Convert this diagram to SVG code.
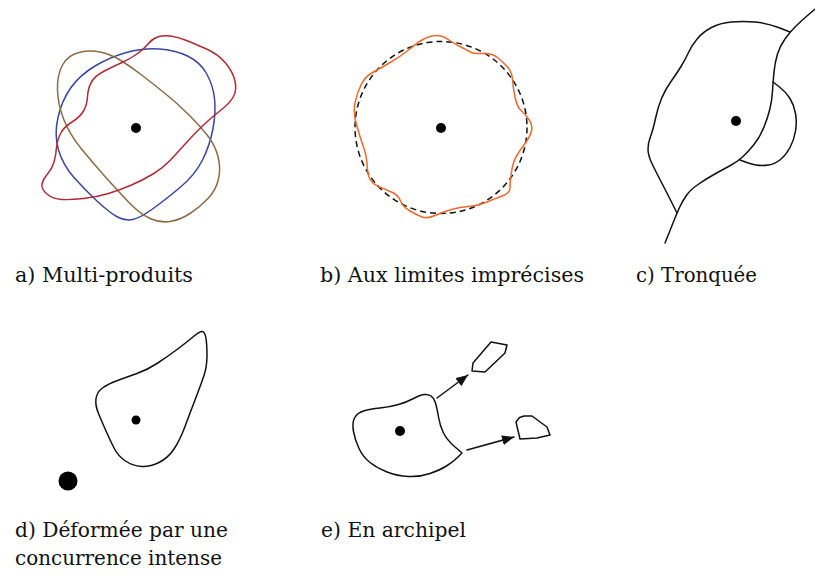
<svg xmlns="http://www.w3.org/2000/svg" width="815" height="576" viewBox="0 0 815 576">
<style>
.ln{fill:none;stroke:#111;stroke-width:1.5;stroke-linejoin:round;stroke-linecap:round}
.dot{fill:#000}
.lbl{font-family:"DejaVu Serif","Liberation Serif",serif;font-size:19.5px;fill:#111}
</style>
<defs>
<marker id="ah" markerUnits="userSpaceOnUse" markerWidth="13" markerHeight="11" refX="12" refY="5" orient="auto">
<path d="M0,0 L12,5 L0,10 Z" fill="#111"/>
</marker>
</defs>
<rect width="815" height="576" fill="#fff"/>

<g id="panel-a">
<path fill="none" stroke="#3a46a0" stroke-width="1.5" d="M 159,49 Q 175,50 187.5,56 Q 200,62 206.5,73.5 Q 213,85 214.5,98.5 Q 216,112 213,128.5 Q 210,145 202.5,160 Q 195,175 180,187.5 Q 165,200 152.5,209 Q 140,218 132.5,219.5 Q 125,221 117.5,217 Q 110,213 97.5,201.5 Q 85,190 74,177.5 Q 63,165 58.5,150 Q 54,135 58,117.5 Q 62,100 71,87.5 Q 80,75 95,66 Q 110,57 126.5,52.5 Q 143,48 159,49 Z"/>
<path fill="none" stroke="#8a6c48" stroke-width="1.5" d="M 100,52 Q 110,54 120,60 Q 130,66 141,74.5 Q 152,83 164.5,93 Q 177,103 188.5,114.5 Q 200,126 207.5,135.5 Q 215,145 218,156.5 Q 221,168 218.5,179 Q 216,190 208,198.5 Q 200,207 190,213.5 Q 180,220 170,221.5 Q 160,223 150,218.5 Q 140,214 128.5,202 Q 117,190 105,176.5 Q 93,163 81.5,149 Q 70,135 64,120 Q 58,105 57.5,90 Q 57,75 62.5,65 Q 68,55 79,52.5 Q 90,50 100,52 Z"/>
<path fill="none" stroke="#b02a34" stroke-width="1.5" d="M 170.5,36 Q 178,37 186.5,40.5 Q 195,44 206.5,49 Q 218,54 225.5,63 Q 233,72 235,81 Q 237,90 233.5,96.5 Q 230,103 221,110 Q 212,117 203.5,125 Q 195,133 186.5,142.5 Q 178,152 170.5,160 Q 163,168 153,174 Q 143,180 131.5,185 Q 120,190 108.5,193.5 Q 97,197 83.5,198.5 Q 70,200 61.5,199.5 Q 53,199 47,194 Q 41,189 42,184 Q 43,179 47.5,174 Q 52,169 54,162 Q 56,155 56.5,147.5 Q 57,140 60.5,133.5 Q 64,127 72,122 Q 80,117 83.5,111 Q 87,105 87.5,96.5 Q 88,88 91.5,82 Q 95,76 103.5,71.5 Q 112,67 121,63 Q 130,59 137,54 Q 144,49 148,44 Q 152,39 157.5,37 Q 163,35 170.5,36 Z"/>
<circle class="dot" cx="136" cy="128" r="5"/>
<text class="lbl" x="15" y="282" textLength="178" lengthAdjust="spacingAndGlyphs">a) Multi-produits</text>
</g>

<g id="panel-b">
<circle cx="441" cy="127.5" r="86" fill="none" stroke="#111" stroke-width="1.5" stroke-dasharray="6 4"/>
<path fill="none" stroke="#ee6a2c" stroke-width="1.5" stroke-linejoin="round" d="M 441,36 Q 445,37 449,40 Q 453,43 460,46.5 Q 467,50 470.5,52 Q 474,54 483,53.5 Q 492,53 497.5,57.5 Q 503,62 507.5,67 Q 512,72 512.5,79.5 Q 513,87 515,97 Q 517,107 521,110.5 Q 525,114 529,119.5 Q 533,125 531.5,131 Q 530,137 525,143.5 Q 520,150 516.5,156 Q 513,162 511.5,172 Q 510,182 510,187.5 Q 510,193 503.5,195.5 Q 497,198 487,202 Q 477,206 468.5,206.5 Q 460,207 451.5,209.5 Q 443,212 435,215.5 Q 427,219 422,217 Q 417,215 410,211 Q 403,207 400.5,201 Q 398,195 392.5,192.5 Q 387,190 377.5,186 Q 368,182 367.5,169.5 Q 367,157 363.5,147 Q 360,137 356.5,125 Q 353,113 355,103 Q 357,93 361,85 Q 365,77 371,73.5 Q 377,70 388.5,63.5 Q 400,57 408.5,50 Q 417,43 422,40 Q 427,37 432,36 Q 437,35 441,36 Z"/>
<circle class="dot" cx="441" cy="128" r="5"/>
<text class="lbl" x="320" y="282" textLength="264" lengthAdjust="spacingAndGlyphs">b) Aux limites imprécises</text>
</g>

<g id="panel-c">
<path class="ln" d="M 815,9 L 807.5,15.5 Q 800,22 795,27 Q 790,32 785,39 Q 780,46 777.5,54 Q 775,62 774,72 Q 773,82 772.5,91 Q 772,100 770,108.5 Q 768,117 764,127 Q 760,137 754,144.5 Q 748,152 742.5,157 Q 737,162 729.5,166 Q 722,170 714,174.5 Q 706,179 698,184.5 Q 690,190 686,196 Q 682,202 679.5,207.5 Q 677,213 674,220.5 Q 671,228 665,243"/>
<path class="ln" d="M 790,32 L 778.5,27.5 Q 767,23 755,22 Q 743,21 731.5,22 Q 720,23 711.5,27.5 Q 703,32 697.5,38.5 Q 692,45 688.5,52.5 Q 685,60 681,66.5 Q 677,73 671,81.5 Q 665,90 661.5,98.5 Q 658,107 655.5,118.5 Q 653,130 650.5,136.5 Q 648,143 648,149 Q 648,155 651.5,162.5 Q 655,170 661,181.5 Q 667,193 672,203 L 677,213"/>
<path class="ln" d="M 773,82 L 779.5,87 Q 786,92 790,98.5 Q 794,105 795.5,113.5 Q 797,122 795.5,131 Q 794,140 790,147.5 Q 786,155 780.5,159.5 Q 775,164 768.5,165 Q 762,166 756,165 Q 750,164 740,160"/>
<circle class="dot" cx="736" cy="121" r="5"/>
<text class="lbl" x="636" y="282" textLength="121" lengthAdjust="spacingAndGlyphs">c) Tronquée</text>
</g>

<g id="panel-d">
<path class="ln" d="M 202.5,331.5 Q 205,332 206,338.5 Q 207,345 207,356 Q 207,367 203.5,377 Q 200,387 195,400 Q 190,413 185,426.5 Q 180,440 174,449 Q 168,458 159,462.5 Q 150,467 141.5,466.5 Q 133,466 125.5,461 Q 118,456 114,448 Q 110,440 106,431 Q 102,422 98.5,413.5 Q 95,405 96,398.5 Q 97,392 102.5,388 Q 108,384 117.5,380.5 Q 127,377 137,373.5 Q 147,370 157,363.5 Q 167,357 177,349.5 Q 187,342 193.5,336.5 Q 200,331 202.5,331.5 Z"/>
<circle class="dot" cx="136" cy="420" r="4.5"/>
<circle class="dot" cx="68" cy="481" r="9.5"/>
<text class="lbl" x="15" y="537" textLength="213" lengthAdjust="spacingAndGlyphs">d) Déformée par une</text>
<text class="lbl" x="15" y="565" textLength="207" lengthAdjust="spacingAndGlyphs">concurrence intense</text>
</g>

<g id="panel-e">
<path class="ln" d="M 424,394.5 Q 428,394 431,396 Q 434,398 435.5,403 Q 437,408 438.5,417 Q 440,426 443.5,433 Q 447,440 454.5,446.5 L 462,453 L 457.5,457.5 Q 453,462 446.5,466 Q 440,470 430,473.5 Q 420,477 408.5,476.5 Q 397,476 387,472 Q 377,468 370,462.5 Q 363,457 359,448.5 Q 355,440 353.5,431.5 Q 352,423 354.5,418 Q 357,413 363.5,411 Q 370,409 380,408 Q 390,407 398.5,404.5 Q 407,402 413.5,398.5 Q 420,395 424,394.5 Z"/>
<circle class="dot" cx="400" cy="431" r="5"/>
<path class="ln" d="M 491,342 L 507,345 L 505,353 L 485,372 L 472,371 L 473,363 Z"/>
<path class="ln" d="M 524,416 L 532,416 L 547,427 L 550,435 L 537,438 L 520,439 L 516,422 L 519.5,417.5 Z"/>
<text class="lbl" x="321" y="537" textLength="145" lengthAdjust="spacingAndGlyphs">e) En archipel</text>
</g>

<g id="connectors">
<line class="ln" x1="437" y1="398" x2="468" y2="375" marker-end="url(#ah)"/>
<line class="ln" x1="467" y1="450" x2="514" y2="437" marker-end="url(#ah)"/>
</g>
</svg>
